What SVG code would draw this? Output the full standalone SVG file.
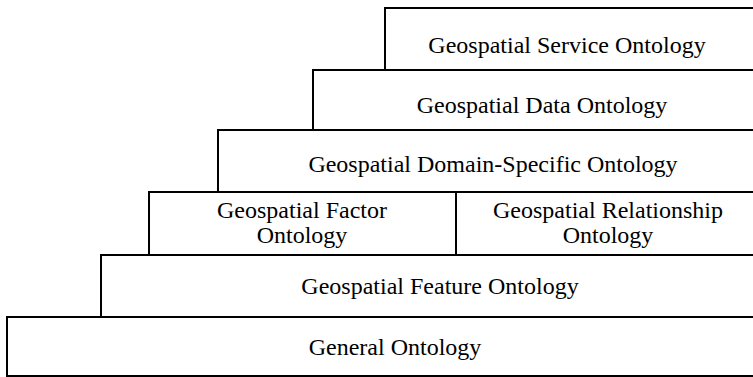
<svg xmlns="http://www.w3.org/2000/svg" width="753" height="377" viewBox="0 0 753 377">
  <style>
    .box { fill: #fff; stroke: #000; stroke-width: 2; }
    .lbl { font-family: "Liberation Serif", "Times New Roman", serif; font-size: 24px; fill: #000; text-anchor: middle; }
  </style>
  <rect width="753" height="377" fill="#fff"/>
  <!-- layers stacked bottom-up; right sides run off the canvas -->
  <g id="general">
    <rect class="box" x="7" y="317" width="760" height="59"/>
    <text class="lbl" x="395" y="355">General Ontology</text>
  </g>
  <g id="feature">
    <rect class="box" x="101" y="255" width="660" height="62"/>
    <text class="lbl" x="440" y="294">Geospatial Feature Ontology</text>
  </g>
  <g id="factor">
    <rect class="box" x="149" y="192" width="307" height="63"/>
    <text class="lbl" x="302" y="218">Geospatial Factor</text>
    <text class="lbl" x="302" y="243">Ontology</text>
  </g>
  <g id="relationship">
    <rect class="box" x="456" y="192" width="305" height="63"/>
    <text class="lbl" x="608" y="218">Geospatial Relationship</text>
    <text class="lbl" x="608" y="243">Ontology</text>
  </g>
  <g id="domain">
    <rect class="box" x="218" y="130" width="543" height="62"/>
    <text class="lbl" x="493" y="172">Geospatial Domain-Specific Ontology</text>
  </g>
  <g id="data">
    <rect class="box" x="313" y="70" width="448" height="60"/>
    <text class="lbl" x="542" y="113">Geospatial Data Ontology</text>
  </g>
  <g id="service">
    <rect class="box" x="385" y="8" width="376" height="62"/>
    <text class="lbl" x="567" y="53">Geospatial Service Ontology</text>
  </g>
</svg>
